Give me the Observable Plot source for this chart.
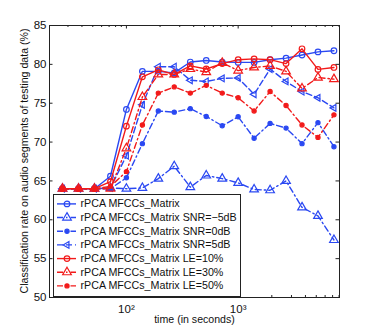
<!DOCTYPE html>
<html><head><meta charset="utf-8">
<script src="https://cdn.jsdelivr.net/npm/d3@7"></script>
<script src="https://cdn.jsdelivr.net/npm/@observablehq/plot@0.6"></script>
<style>
html,body{margin:0;padding:0;background:#fff;}
#wrap{position:relative;width:374px;height:335px;font-family:'Liberation Sans', Arial, Helvetica, sans-serif;}
#legend{position:absolute;left:53px;top:194px;}
#ylab{position:absolute;left:24px;top:161px;width:0;height:0;}
#ylab span{position:absolute;left:0;top:0;white-space:nowrap;font-size:10.6px;color:#111;transform:translate(-50%,-50%) rotate(-90deg);}
</style></head>
<body><div id="wrap"><div id="main"></div><div id="legend"></div><div id="ylab"><span id="ylabtext"></span></div></div>
<script>
const times = [26.8, 37.3, 51.8, 72.0, 100, 139, 193, 268, 373, 518, 720, 1000, 1389, 1931, 2683, 3728, 5179, 7197];
const seriesNames = ["rPCA MFCCs_Matrix","rPCA MFCCs_Matrix SNR=\u22125dB","rPCA MFCCs_Matrix SNR=0dB","rPCA MFCCs_Matrix SNR=5dB","rPCA MFCCs_Matrix LE=10%","rPCA MFCCs_Matrix LE=30%","rPCA MFCCs_Matrix LE=50%"];
const clean   = [64.0,64.0,64.0,65.6,74.2,79.1,79.1,78.9,80.3,80.5,80.3,80.25,80.25,80.6,80.8,81.2,81.6,81.75];
const snrM5   = [64.0,64.0,64.0,64.1,64.0,64.1,65.3,66.9,64.2,65.7,65.3,64.75,63.9,63.8,65.0,61.6,60.5,57.4];
const snr0    = [64.0,64.0,64.0,64.0,65.4,69.8,74.0,73.85,74.3,73.3,72.1,73.25,70.5,72.4,71.8,69.8,72.5,69.4];
const snr5    = [64.0,64.0,64.0,64.1,68.25,74.8,79.7,79.7,77.95,77.8,78.2,78.25,76.15,79.4,77.8,76.5,75.7,74.4];
const le10    = [64.0,64.0,64.0,64.9,72.05,78.4,79.3,78.7,79.8,79.4,80.1,80.6,80.7,80.6,80.1,82.0,79.35,79.6];
const le30    = [64.0,64.0,64.0,64.0,69.2,75.8,78.7,78.7,79.4,79.0,80.2,79.2,79.6,79.8,79.1,76.9,78.3,78.1];
const le50    = [64.0,64.0,64.0,64.3,66.2,72.2,76.3,77.1,76.3,77.3,76.3,75.7,74.0,76.5,74.7,72.2,70.6,73.5];
const yTicks = [50,55,60,65,70,75,80,85];
const xMajor = [100,1000];
const xMajorLabels = ["10\u00b2","10\u00b3"];
const xMinor = [30,40,50,60,70,80,90,200,300,400,500,600,700,800,900,2000,3000,4000,5000,6000,7000,8000];
const yLabel = "Classification rate on audio segments of testing data (%)";
const xLabel = "time (in seconds)";

const BLUE = "#2a48f2", RED = "#f21a1a";
const DASH = "6,3", DASHDOT = "6,3,1.5,3";
const triLeft = {draw(ctx, size){ const s = Math.sqrt(size)*0.6824, t = s/2, u = s*Math.sqrt(3)/2; ctx.moveTo(-s,0); ctx.lineTo(t,-u); ctx.lineTo(t,u); ctx.closePath(); }};
const styles = [
  {stroke: BLUE, dash: null, symbol: "circle", r: 2.8, fill: "none"},
  {stroke: BLUE, dash: DASHDOT, symbol: "triangle", r: 3.2, fill: "none"},
  {stroke: BLUE, dash: DASHDOT, symbol: "circle", r: 2.1, fill: BLUE},
  {stroke: BLUE, dash: DASH, symbol: triLeft, r: 3.2, fill: "none"},
  {stroke: RED, dash: null, symbol: "circle", r: 2.8, fill: "none"},
  {stroke: RED, dash: DASHDOT, symbol: "triangle", r: 3.2, fill: "none"},
  {stroke: RED, dash: DASHDOT, symbol: "circle", r: 2.1, fill: RED}
];
const allSeries = [clean, snrM5, snr0, snr5, le10, le30, le50];
const FONT = "'Liberation Sans', Arial, Helvetica, sans-serif";

const W = 374, H = 335, mL = 49, mR = 35, mT = 25, mB = 38;
const innerW = W - mL - mR, innerH = H - mT - mB;

const marks = [];
allSeries.forEach((vals, si) => {
  const st = styles[si];
  const rows = times.map((t, i) => ({t, v: vals[i]}));
  marks.push(Plot.line(rows, {x: "t", y: "v", stroke: st.stroke, strokeWidth: 1.4, strokeDasharray: st.dash}));
  marks.push(Plot.dot(rows, {x: "t", y: "v", stroke: st.stroke, fill: st.fill, symbol: st.symbol, r: st.r, strokeWidth: 1.2}));
});
marks.push(Plot.tickX(xMajor, {x: d => d, stroke: "#222", insetTop: innerH - 3.5}));
marks.push(Plot.tickX(xMajor, {x: d => d, stroke: "#222", insetBottom: innerH - 3.5}));
marks.push(Plot.tickX(xMinor, {x: d => d, stroke: "#222", insetTop: innerH - 2}));
marks.push(Plot.tickX(xMinor, {x: d => d, stroke: "#222", insetBottom: innerH - 2}));
marks.push(Plot.tickY(yTicks, {y: d => d, stroke: "#222", insetRight: innerW - 3.5}));
marks.push(Plot.tickY(yTicks, {y: d => d, stroke: "#222", insetLeft: innerW - 3.5}));
marks.push(Plot.frame({stroke: "#222", strokeWidth: 1}));
marks.push(Plot.axisY(yTicks, {tickSize: 0, tickPadding: 3, label: null, fontSize: 11.5}));
marks.push(Plot.axisX(xMajor, {tickSize: 0, tickPadding: 7, label: null, fontSize: 11.5, tickFormat: d => xMajorLabels[xMajor.indexOf(d)]}));
marks.push(Plot.text([xLabel], {frameAnchor: "bottom", dy: 25, fontSize: 10.6, fill: "#111"}));

const chart = Plot.plot({
  width: W, height: H, marginLeft: mL, marginRight: mR, marginTop: mT, marginBottom: mB,
  style: {fontFamily: FONT, fontSize: "11px", color: "#111", background: "#fff"},
  x: {type: "log", domain: [20.5, 8070], axis: null},
  y: {domain: [50, 85], axis: null},
  marks
});
document.getElementById("main").appendChild(chart);
document.getElementById("ylabtext").textContent = yLabel;

// legend
const LW = 188, LH = 103, rowY0 = 9.4, rowDY = 13.67;
const legRows = seriesNames.map((name, i) => ({name, i, y: rowY0 + i * rowDY}));
const legMarks = [Plot.rect([0], {x1: 0.5, x2: LW - 0.5, y1: 0.5, y2: LH - 0.5, fill: "#fff", stroke: "#222"})];
legRows.forEach(r => {
  const st = styles[r.i];
  legMarks.push(Plot.ruleY([r], {y: "y", x1: 4, x2: 23, stroke: st.stroke, strokeWidth: 1.4, strokeDasharray: st.dash}));
  legMarks.push(Plot.dot([r], {x: 13.5, y: "y", stroke: st.stroke, fill: st.fill, symbol: st.symbol, r: st.r, strokeWidth: 1.2}));
});
legMarks.push(Plot.text(legRows, {x: 27, y: "y", text: "name", textAnchor: "start", fontSize: 10.7, fill: "#111"}));
const legend = Plot.plot({
  width: LW, height: LH, margin: 0,
  style: {fontFamily: FONT, background: "transparent"},
  x: {type: "identity", axis: null}, y: {type: "identity", axis: null},
  marks: legMarks
});
document.getElementById("legend").appendChild(legend);
</script></body></html>
